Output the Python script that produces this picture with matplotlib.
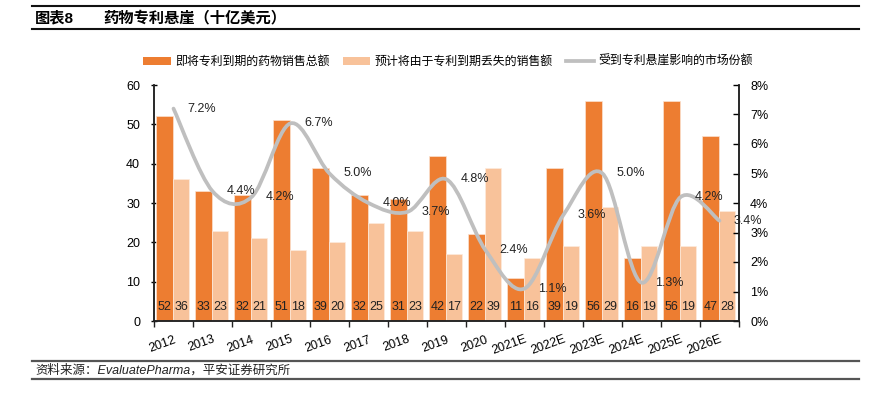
import matplotlib
matplotlib.use("Agg")
import matplotlib.pyplot as plt
from matplotlib.path import Path
from matplotlib.patches import PathPatch, Patch
from matplotlib.lines import Line2D
import numpy as np

plt.rcParams['font.family'] = ['Liberation Sans', 'Noto Sans CJK SC', 'DejaVu Sans']

categories = ["2012", "2013", "2014", "2015", "2016", "2017", "2018", "2019", "2020",
              "2021E", "2022E", "2023E", "2024E", "2025E", "2026E"]
sales_expiring = [52, 33, 32, 51, 39, 32, 31, 42, 22, 11, 39, 56, 16, 56, 47]
sales_lost = [36, 23, 21, 18, 20, 25, 23, 17, 39, 16, 19, 29, 19, 19, 28]
market_share = [7.2, 4.4, 4.2, 6.7, 5.0, 4.0, 3.7, 4.8, 2.4, 1.1, 3.6, 5.0, 1.3, 4.2, 3.4]

legend_labels = ["即将专利到期的药物销售总额", "预计将由于专利到期丢失的销售额", "受到专利悬崖影响的市场份额"]
title_left = "图表8"
title_main = "药物专利悬崖（十亿美元）"
source_text = "资料来源：EvaluatePharma，平安证券研究所"

c_dark = "#ED7D31"
c_light = "#F8C29A"
c_line = "#BFBFBF"

fig = plt.figure(figsize=(8.7, 4.05), dpi=100)
ax = fig.add_axes([154/870, 1-321/405, (739-154)/870, (321-85)/405])
ax2 = ax.twinx()

x = np.arange(len(categories))
w = 0.425
b1 = ax.bar(x - w/2 - 0.02, sales_expiring, width=w, color=c_dark, edgecolor="#FBE2D0", linewidth=0.5, zorder=2)
b2 = ax.bar(x + w/2 - 0.02, sales_lost, width=w, color=c_light, edgecolor="#FDEBDD", linewidth=0.5, zorder=2)

for xi, v in zip(x - w/2 - 0.02, sales_expiring):
    ax.annotate(str(v), (xi, 0), xytext=(0, 10), textcoords="offset points",
                ha="center", va="center", fontsize=9, color="#222222", zorder=5)
for xi, v in zip(x + w/2 - 0.02, sales_lost):
    ax.annotate(str(v), (xi, 0), xytext=(0, 10), textcoords="offset points",
                ha="center", va="center", fontsize=9, color="#222222", zorder=5)

ax.set_xlim(-0.5, len(categories) - 0.5)
ax.set_ylim(0, 60)
ax.set_yticks(range(0, 61, 10))
ax.set_xticks(x)
ax.set_xticklabels(categories, rotation=20, ha="right", rotation_mode="anchor", fontsize=9)
ax.set_xticks(np.arange(-0.5, len(categories), 1), minor=True)
ax.tick_params(axis="x", which="major", length=0, pad=9)
ax.tick_params(axis="x", which="minor", length=4, direction="out", width=1, color="#222222")
ax.tick_params(axis="y", direction="inout", length=4, width=1, labelsize=9, pad=8)

# smoothed line (Bezier through data points, like Excel smoothing)
pts = np.column_stack([x, np.array(market_share) / 100.0])
verts = [tuple(pts[0])]
codes = [Path.MOVETO]
n = len(pts)
for i in range(n - 1):
    p0 = pts[i - 1] if i > 0 else pts[i]
    p1 = pts[i]
    p2 = pts[i + 1]
    p3 = pts[i + 2] if i + 2 < n else pts[i + 1]
    c1 = p1 + (p2 - p0) / 6.0
    c2 = p2 - (p3 - p1) / 6.0
    verts += [tuple(c1), tuple(c2), tuple(p2)]
    codes += [Path.CURVE4] * 3
curve = PathPatch(Path(verts, codes), facecolor="none", edgecolor=c_line, linewidth=2.7,
                  capstyle="round", zorder=3)
ax2.add_patch(curve)

for xi, v in zip(x, market_share):
    ax2.annotate(f"{v:.1f}%", (xi, v / 100.0), xytext=(10, 0), textcoords="offset points",
                 ha="left", va="center", fontsize=9, color="#222222", zorder=6)

ax2.set_ylim(0, 0.08)
ax2.set_yticks(np.arange(0, 0.0801, 0.01))
ax2.set_yticklabels([f"{i}%" for i in range(9)])
ax2.tick_params(axis="y", direction="in", length=4, width=1, labelsize=9, pad=8)

for a in (ax, ax2):
    a.spines["top"].set_visible(False)
    for s in ("left", "right", "bottom"):
        a.spines[s].set_color("#222222")
        a.spines[s].set_linewidth(1.1)
ax.set_zorder(ax2.get_zorder() - 1)
ax.patch.set_visible(False)
ax2.patch.set_visible(False)

handles = [Patch(facecolor=c_dark), Patch(facecolor=c_light),
           Line2D([0], [0], color=c_line, lw=2.7)]
fig.legend(handles, legend_labels, loc="center", bbox_to_anchor=(448/870, 1-62/405), ncol=3,
           frameon=False, fontsize=8.6, handlelength=2.3, handleheight=0.7, handletextpad=0.4,
           columnspacing=1.1, borderpad=0, borderaxespad=0)

# title block
fig.add_artist(Line2D([32/870, 859/870], [1-6/405, 1-6/405], color="#111111", lw=1.5))
fig.add_artist(Line2D([32/870, 859/870], [1-29/405, 1-29/405], color="#111111", lw=1.5))
fig.text(35/870, 1-18/405, title_left, fontsize=11, fontweight="bold", va="center", ha="left")
fig.text(103/870, 1-18/405, title_main, fontsize=11, fontweight="bold", va="center", ha="left")

# source block
fig.add_artist(Line2D([32/870, 859/870], [1-361/405, 1-361/405], color="#555555", lw=1.6))
fig.add_artist(Line2D([32/870, 859/870], [1-379/405, 1-379/405], color="#555555", lw=1.6))
fig.text(35/870, 1-370/405, source_text, fontsize=9, style="italic", va="center", ha="left",
         color="#222222")

fig.savefig("out.png", dpi=100)
